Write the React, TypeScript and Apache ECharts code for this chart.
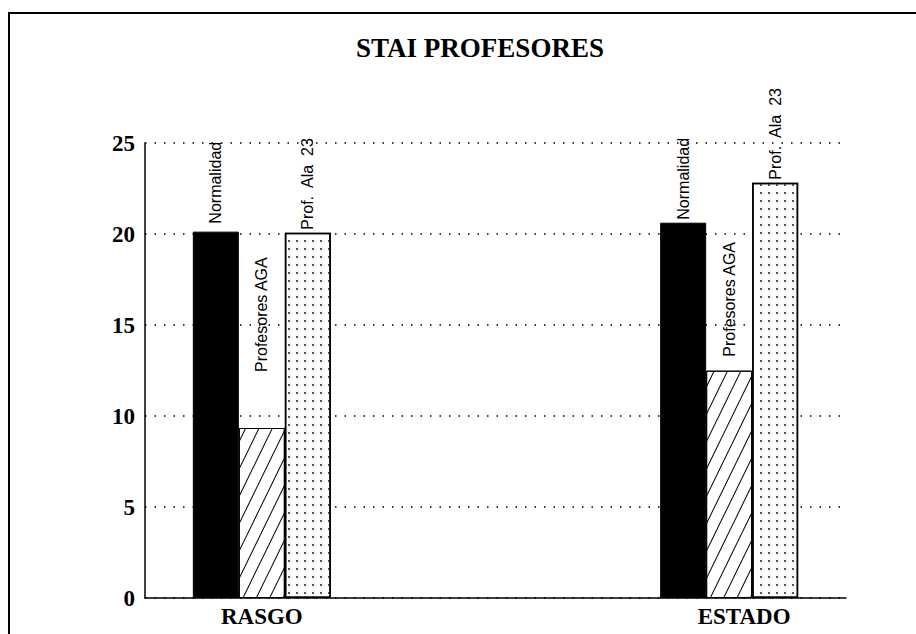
import React, { useEffect, useRef } from "react";
import * as echarts from "echarts";

const categories = ["RASGO", "", "ESTADO"];
const seriesNames = ["Normalidad", "Profesores AGA", "Prof.  Ala  23"];
const normalidad = [20.13, null, 20.62];
const profesoresAGA = [9.34, null, 12.49];
const profAla23 = [20.07, null, 22.82];
const labelDistNorm = [8, 0, 3];
const labelDistAGA = [56, 0, 14];
const labelDistAla = [3, 0, 3];
const yMin = 0;
const yMax = 25;
const yInterval = 5;
const titleText = "STAI PROFESORES";

export default function App() {
  const ref = useRef<HTMLDivElement>(null);
  useEffect(() => {
    if (!ref.current) return;
    const chart = echarts.init(ref.current, null, { renderer: "svg" });
    const barLabel = (dist: number) => ({
      show: true,
      position: "top" as const,
      rotate: 90,
      align: "left" as const,
      verticalAlign: "middle" as const,
      distance: dist,
      fontFamily: "Liberation Sans",
      fontSize: 16,
      color: "#000",
    });
    const mk = (vals: (number | null)[], name: string, dists: number[]) =>
      vals.map((v, i) =>
        v == null ? null : { value: v, label: { ...barLabel(dists[i]), formatter: name } }
      );
    chart.setOption({
      animation: false,
      backgroundColor: "#fff",
      grid: { left: 145, right: 70, top: 143, bottom: 36, containLabel: false },
      xAxis: {
        type: "category",
        data: categories,
        axisTick: { show: false },
        axisLine: { show: true, lineStyle: { color: "#000", width: 1.5 } },
        axisLabel: {
          margin: 7,
          color: "#000",
          fontFamily: "Liberation Serif",
          fontWeight: "bold",
          fontSize: 23,
          formatter: (v: string) => (v === "ESTADO" ? "{e|" + v + "}" : v),
          rich: {
            e: {
              fontFamily: "Liberation Serif",
              fontWeight: "bold",
              fontSize: 23,
              color: "#000",
              padding: [0, 0, 0, 30],
            },
          },
        },
        splitLine: { show: false },
      },
      yAxis: {
        type: "value",
        min: yMin,
        max: yMax,
        interval: yInterval,
        axisLine: { show: true, lineStyle: { color: "#000", width: 1.5 } },
        axisTick: { show: false },
        axisLabel: {
          margin: 10,
          color: "#000",
          fontFamily: "Liberation Serif",
          fontWeight: "bold",
          fontSize: 23,
        },
        splitLine: {
          show: true,
          lineStyle: { color: "#000", width: 1.5, type: [1.5, 8] },
        },
      },
      series: [
        {
          name: seriesNames[0],
          type: "bar",
          barWidth: 46,
          barGap: "0%",
          data: mk(normalidad, seriesNames[0], labelDistNorm),
          itemStyle: { color: "#000", borderColor: "#000", borderWidth: 1 },
        },
        {
          name: seriesNames[1],
          type: "bar",
          barWidth: 46,
          barGap: "0%",
          data: mk(profesoresAGA, seriesNames[1], labelDistAGA),
          itemStyle: {
            color: "#fff",
            borderColor: "#000",
            borderWidth: 1,
            decal: {
              symbol: "rect",
              symbolSize: 1,
              color: "#000",
              dashArrayX: [1, 0],
              dashArrayY: [0.9, 10.9],
              rotation: (-64 * Math.PI) / 180,
            },
          },
        },
        {
          name: seriesNames[2],
          type: "bar",
          barWidth: 46,
          barGap: "0%",
          data: mk(profAla23, seriesNames[2], labelDistAla),
          itemStyle: {
            color: "#fff",
            borderColor: "#000",
            borderWidth: 1.5,
            decal: {
              symbol: "rect",
              symbolSize: 1,
              color: "#555",
              dashArrayX: [1.3, 5.7],
              dashArrayY: [1.3, 5.2],
            },
          },
        },
      ],
      graphic: [
        {
          type: "rect",
          shape: { x: 9, y: 13, width: 920, height: 640 },
          style: { fill: "none", stroke: "#000", lineWidth: 2 },
          silent: true,
        },
        {
          type: "text",
          x: 480,
          y: 48,
          style: {
            text: titleText,
            textAlign: "center",
            textVerticalAlign: "middle",
            fontFamily: "Liberation Serif",
            fontWeight: "bold",
            fontSize: 27,
            fill: "#000",
          },
        },
      ],
    });
    return () => chart.dispose();
  }, []);
  return (
    <div
      ref={ref}
      style={{ position: "fixed", left: 0, top: 0, width: 916, height: 634 }}
    />
  );
}
